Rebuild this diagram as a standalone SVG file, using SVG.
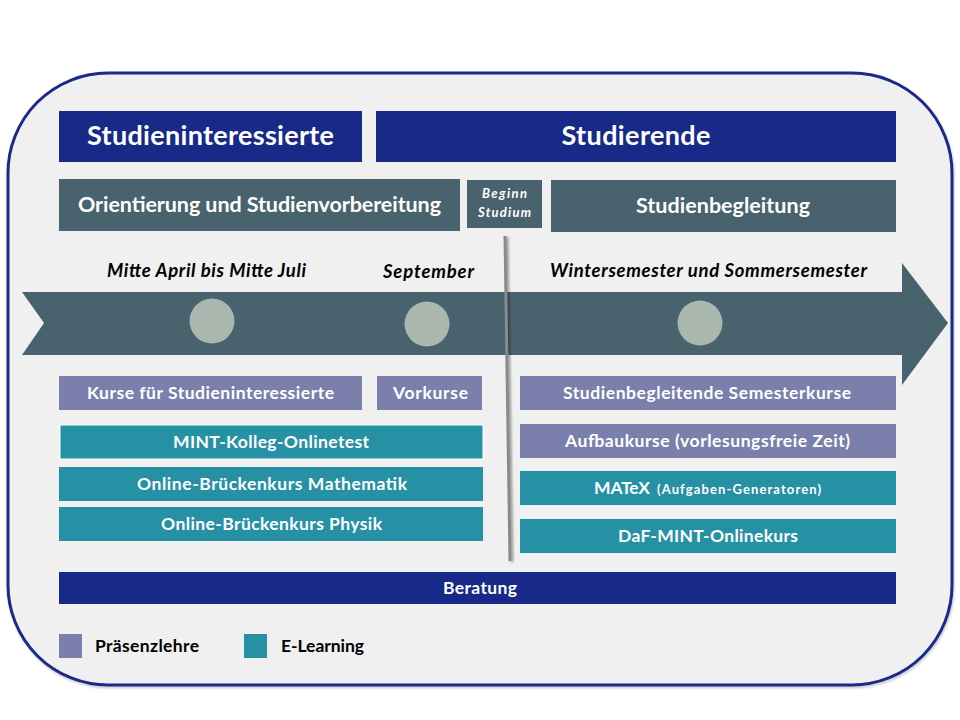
<svg xmlns="http://www.w3.org/2000/svg" width="960" height="720" viewBox="0 0 960 720">
<defs>
<style>
text{font-family:Lato,"Open Sans","Liberation Sans",sans-serif;font-weight:bold;fill:#fff;text-anchor:middle}
.h1{font-size:27px}
.h2{font-size:21.5px}
.lb{font-size:17.5px}
.dt{font-size:18.5px;font-style:italic;fill:#000}
.lg{font-size:17.5px;fill:#000;text-anchor:start}
.bs{font-size:13px;font-style:italic}
.navy{fill:#182987}
.slate{fill:#48626e}
.pres{fill:#7b7fab}
.elearn{fill:#2690a4}
</style>
<filter id="sh" x="-50%" y="-5%" width="200%" height="110%"><feGaussianBlur stdDeviation="1.2"/></filter>
</defs>
<rect width="960" height="720" fill="#fff"/>
<rect x="9" y="75" width="944" height="612" rx="100" ry="100" fill="none" stroke="#000" stroke-opacity="0.2" stroke-width="3" filter="url(#sh)"/>
<rect x="8" y="73" width="944" height="612" rx="100" ry="100" fill="#f0f0f0" stroke="#1a2a8a" stroke-width="3"/>

<g id="hdr-studieninteressierte"><rect class="navy" x="59" y="111" width="303" height="51"/><text class="h1" x="210.5" y="145" textLength="247" lengthAdjust="spacing">Studieninteressierte</text></g>
<g id="hdr-studierende"><rect class="navy" x="376" y="111" width="520" height="51"/><text class="h1" x="636" y="145" textLength="149" lengthAdjust="spacing">Studierende</text></g>

<g id="orientierung"><rect class="slate" x="59" y="179" width="401" height="52"/><text class="h2" x="259.5" y="212" textLength="363" lengthAdjust="spacing">Orientierung und Studienvorbereitung</text></g>
<g id="beginn"><rect class="slate" x="467" y="180" width="75" height="48"/><text class="bs" x="504.5" y="198" textLength="45" lengthAdjust="spacing">Beginn</text><text class="bs" x="504.5" y="217" textLength="53" lengthAdjust="spacing">Studium</text></g>
<g id="studienbegleitung"><rect class="slate" x="551" y="180" width="345" height="52"/><text class="h2" x="723" y="213" textLength="174" lengthAdjust="spacing">Studienbegleitung</text></g>

<g id="timeline">
<polygon class="slate" points="22,292 902,292 902,263 948,323 902,385 902,355 22,355 44,323"/>
<circle cx="212" cy="321" r="22.5" fill="#a9b7ae"/>
<circle cx="427" cy="324" r="22.5" fill="#a9b7ae"/>
<circle cx="700" cy="323" r="22.5" fill="#a9b7ae"/>
</g>
<g id="dates">
<text class="dt" x="206.5" y="277" textLength="199" lengthAdjust="spacing">Mitte April bis Mitte Juli</text>
<text class="dt" x="428.5" y="278" textLength="91" lengthAdjust="spacing">September</text>
<text class="dt" x="708.5" y="277" textLength="317" lengthAdjust="spacing">Wintersemester und Sommersemester</text>
</g>

<g id="connectors">
<line x1="507" y1="237" x2="512" y2="562" stroke="#000" stroke-opacity="0.35" stroke-width="3" filter="url(#sh)"/>
<line x1="505" y1="236" x2="510" y2="561" stroke="#8a8a8a" stroke-width="3"/>
</g>

<g id="kurse-si"><rect class="pres" x="59" y="376" width="303" height="34"/><text class="lb" x="210.5" y="399" textLength="247" lengthAdjust="spacing">Kurse für Studieninteressierte</text></g>
<g id="vorkurse"><rect class="pres" x="377" y="376" width="105" height="34"/><text class="lb" x="430.5" y="399" textLength="75" lengthAdjust="spacing">Vorkurse</text></g>
<g id="mint-test"><rect class="elearn" x="60" y="425" width="423" height="34" stroke="#fff" stroke-width="1"/><text class="lb" x="271" y="448" textLength="196" lengthAdjust="spacing">MINT-Kolleg-Onlinetest</text></g>
<g id="bk-mathe"><rect class="elearn" x="59" y="467" width="424" height="34"/><text class="lb" x="272" y="490" textLength="270" lengthAdjust="spacing">Online-Brückenkurs Mathematik</text></g>
<g id="bk-physik"><rect class="elearn" x="59" y="507" width="424" height="34"/><text class="lb" x="271.5" y="530" textLength="221" lengthAdjust="spacing">Online-Brückenkurs Physik</text></g>

<g id="semesterkurse"><rect class="pres" x="520" y="376" width="376" height="34"/><text class="lb" x="707" y="399" textLength="288" lengthAdjust="spacing">Studienbegleitende Semesterkurse</text></g>
<g id="aufbaukurse"><rect class="pres" x="520" y="424" width="376" height="34"/><text class="lb" x="707.5" y="447" textLength="285" lengthAdjust="spacing">Aufbaukurse (vorlesungsfreie Zeit)</text></g>
<g id="matex"><rect class="elearn" x="520" y="471" width="376" height="34"/><text class="lb" x="594" y="494" style="text-anchor:start" textLength="56" lengthAdjust="spacing">MATeX</text><text x="657" y="494" style="font-size:13px;text-anchor:start" textLength="164" lengthAdjust="spacing">(Aufgaben-Generatoren)</text></g>
<g id="daf"><rect class="elearn" x="520" y="519" width="376" height="34"/><text class="lb" x="708" y="542" textLength="180" lengthAdjust="spacing">DaF-MINT-Onlinekurs</text></g>

<g id="beratung"><rect class="navy" x="59" y="572" width="837" height="32"/><text class="lb" x="480" y="594" textLength="74" lengthAdjust="spacing">Beratung</text></g>

<g id="legend">
<rect class="pres" x="59" y="634" width="23" height="24"/><text class="lg" x="95" y="652" textLength="104" lengthAdjust="spacing">Präsenzlehre</text>
<rect class="elearn" x="244" y="634" width="23" height="24"/><text class="lg" x="281" y="652" textLength="83" lengthAdjust="spacing">E-Learning</text>
</g>
</svg>
